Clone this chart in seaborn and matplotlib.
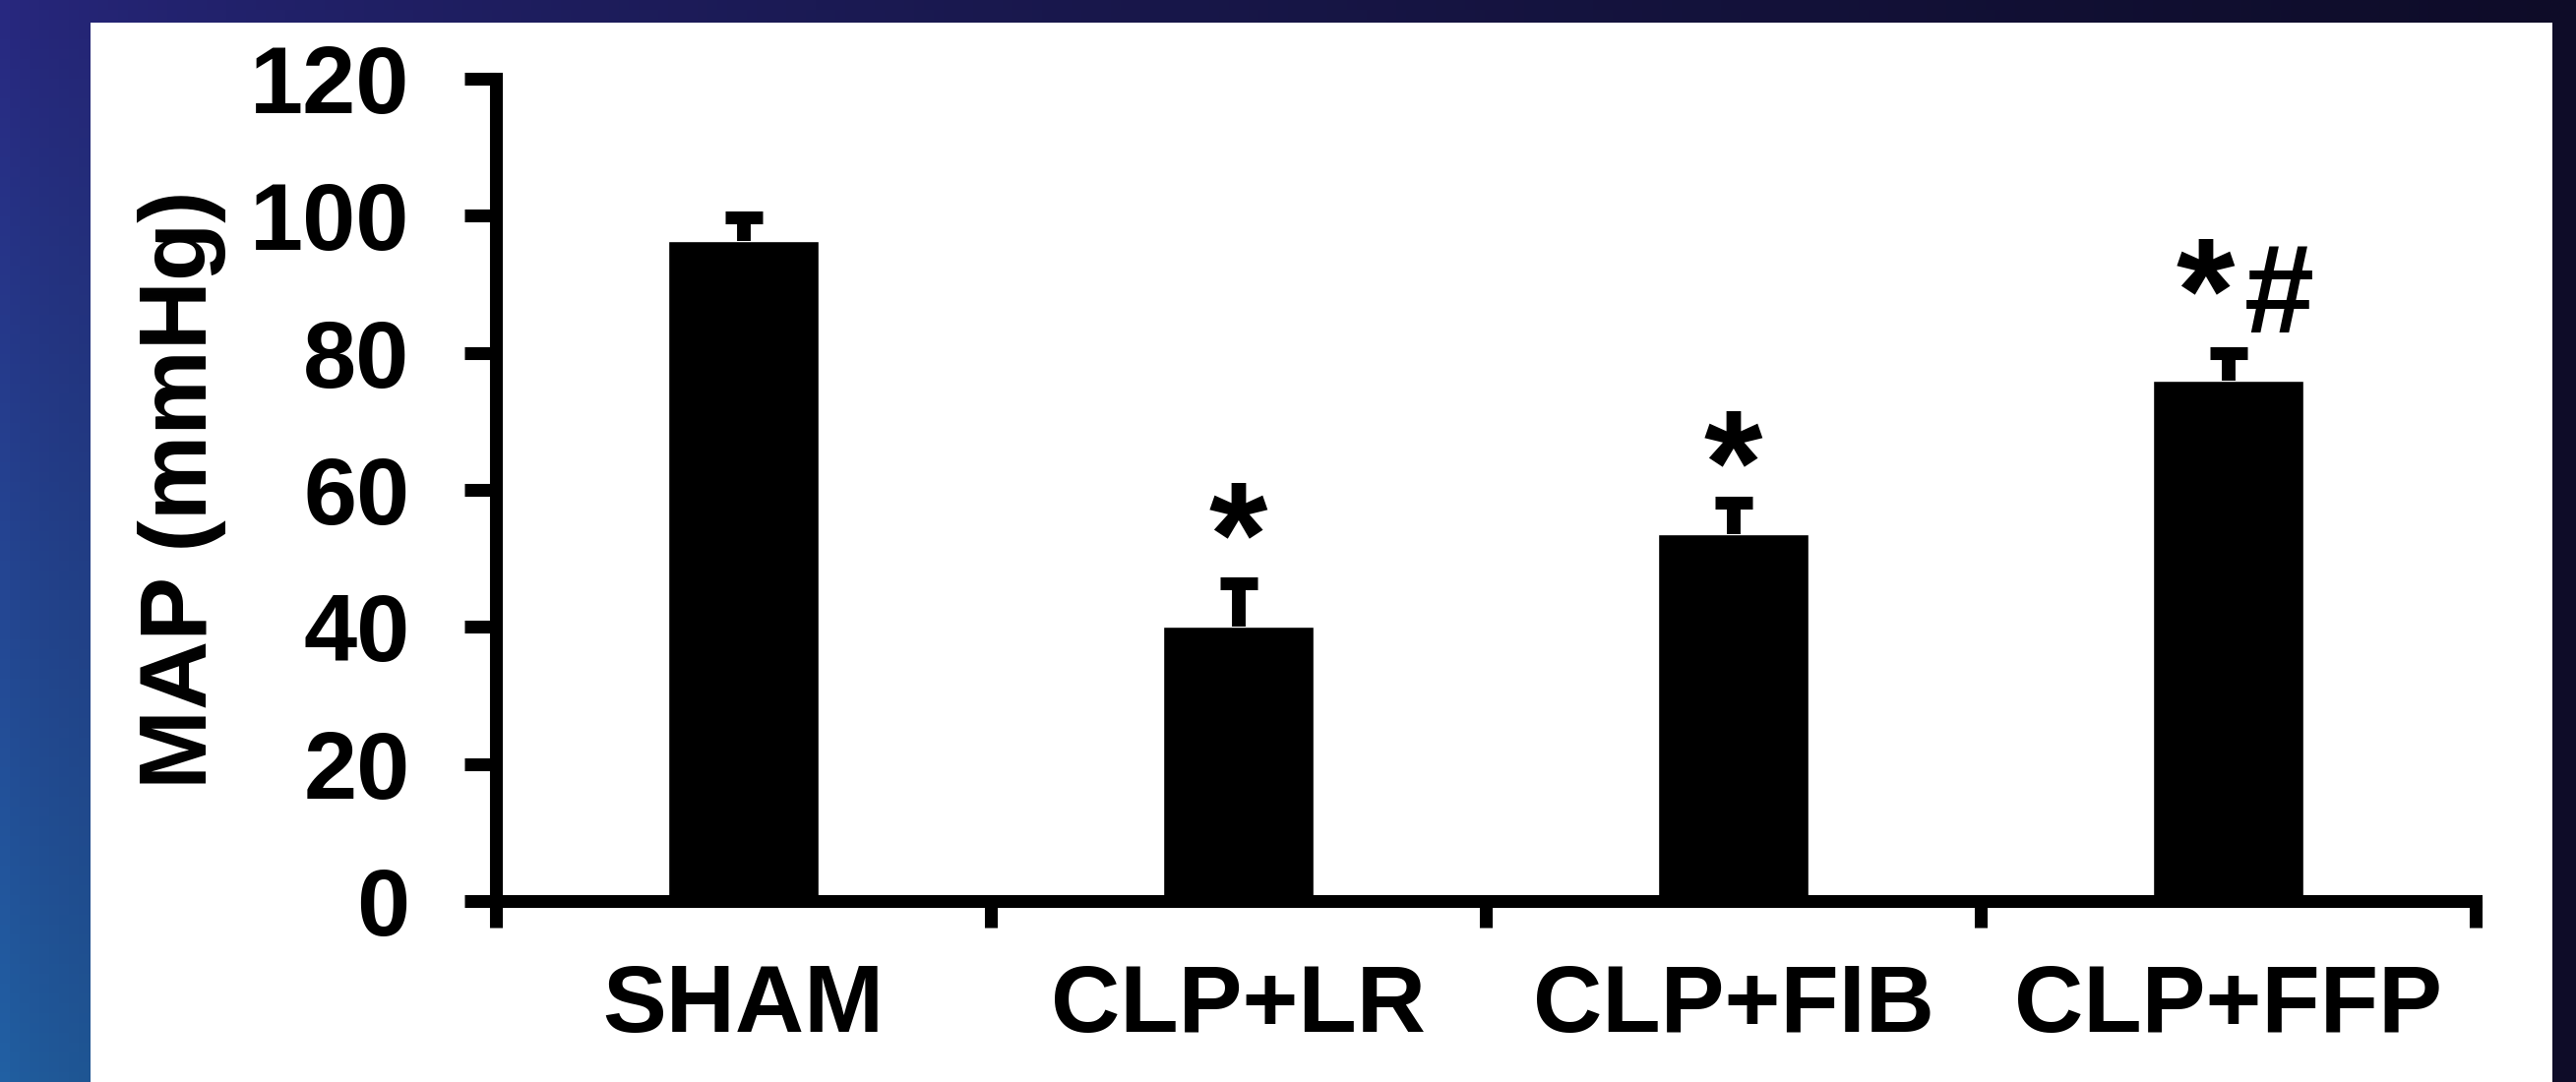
import numpy as np
import pandas as pd
import matplotlib
matplotlib.use("Agg")
import matplotlib.pyplot as plt
import seaborn as sns
from matplotlib.patches import Rectangle

# ==========================================
# DATA
# ==========================================
groups = ['SHAM', 'CLP+LR', 'CLP+FIB', 'CLP+FFP']
map_mean = [96.3, 40.0, 53.5, 76.0]
map_sem = [3.4, 6.4, 4.6, 4.0]
y_ticks = [0, 20, 40, 60, 80, 100, 120]
star_marks = ['', '*', '*', '*']
hash_marks = ['', '', '', '#']

# ==========================================
# STYLING
# ==========================================
sns.set_theme(style="white")
plt.rcParams['font.family'] = ['Liberation Sans', 'DejaVu Sans']
plt.rcParams['font.weight'] = 'bold'

W, H = 2618, 1100
fig = plt.figure(figsize=(W / 100, H / 100), dpi=100)

# dark blue slide background with a gradient
ny, nx = 110, 262
fy = np.linspace(0, 1, ny)[:, None, None]
fx = np.linspace(0, 1, nx)[None, :, None]
top_left = np.array([40, 40, 128]) / 255
bottom_left = np.array([33, 96, 163]) / 255
right_col = np.array([14, 12, 40]) / 255
left_col = top_left * (1 - fy) + bottom_left * fy
t = fx ** 0.6
grad = left_col * (1 - t) + right_col * t

bg = fig.add_axes([0, 0, 1, 1])
bg.imshow(grad, aspect='auto', extent=[0, 1, 0, 1], origin='upper')
bg.add_patch(Rectangle((92 / W, 0), (2594 - 92) / W, (H - 23) / H,
                       transform=bg.transAxes, facecolor='white', edgecolor='none'))
bg.set_xlim(0, 1)
bg.set_ylim(0, 1)
bg.axis('off')

# main chart axes
ax = fig.add_axes([504 / W, 1 - 916 / H, (2516 - 504) / W, (916 - 80) / H])
ax.set_facecolor('white')

df = pd.DataFrame({'group': groups, 'map': map_mean})
sns.barplot(data=df, x='group', y='map', color='black', saturation=1,
            width=0.306, errorbar=None, ax=ax)

# upper-only error bars (hide the lower caps sitting on the bar tops)
eb = ax.errorbar(x=np.arange(len(groups)), y=map_mean,
                 yerr=[np.zeros(len(groups)), map_sem], fmt='none',
                 ecolor='black', elinewidth=10, capsize=14, capthick=9.4)
eb[1][0].set_visible(False)

# significance marks, offsets in points above the error bar top
star_dy = [0, -2, -8, 8]
for i, (s, h) in enumerate(zip(star_marks, hash_marks)):
    top = map_mean[i] + map_sem[i]
    if s:
        dx = -17 if h else 0
        ax.annotate(s, xy=(i, top), xytext=(dx, star_dy[i]), textcoords='offset points',
                    ha='center', va='baseline', fontsize=110, color='black')
    if h:
        ax.annotate(h, xy=(i, top), xytext=(37, 15), textcoords='offset points',
                    ha='center', va='baseline', fontsize=92, color='black')

ax.set_xlim(-0.5, len(groups) - 0.5)
ax.set_ylim(0, 120)
ax.set_yticks(y_ticks)
ax.set_xticks(np.arange(-0.5, len(groups), 1), minor=True)

for side in ['top', 'right']:
    ax.spines[side].set_visible(False)
for side in ['left', 'bottom']:
    ax.spines[side].set_visible(True)
    ax.spines[side].set_linewidth(9.4)
    ax.spines[side].set_color('black')

ax.tick_params(axis='y', which='major', left=True, direction='out', length=23,
               width=9.4, pad=40, labelsize=70, color='black', labelcolor='black')
ax.tick_params(axis='x', which='minor', bottom=True, direction='out', length=19.4,
               width=9.4, color='black')
ax.tick_params(axis='x', which='major', bottom=False, length=0, pad=45,
               labelsize=70, labelcolor='black')
ax.set_xlabel('')
ax.set_ylabel('')

fig.text(185 / W, 1 - 498 / H, 'MAP (mmHg)', rotation=90, ha='center', va='center',
         fontsize=70, color='black')

fig.savefig('out.png', dpi=100)
